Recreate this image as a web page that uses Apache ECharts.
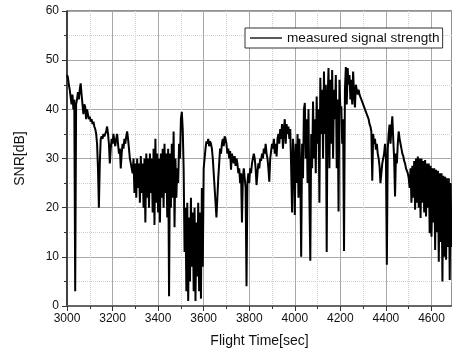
<!DOCTYPE html>
<html>
<head>
<meta charset="utf-8">
<script src="https://cdn.jsdelivr.net/npm/echarts@6/dist/echarts.min.js"></script>
<style>
html,body{margin:0;padding:0;background:#fff;}
#chart{width:452px;height:353px;}
</style>
</head>
<body>
<div id="chart"></div>
<script>
// Sampling grid of the recording (seconds)
const timeStart = 3000;
const timeStep = 4;
// SNR values (dB), one per sample
const snr = [
47, 46.5, 45, 44, 42.5, 41, 43, 40, 42, 3,
41, 42, 43.5, 42, 44, 45.3, 43, 41, 39, 41,
40.5, 38, 40, 39, 38, 38.5, 37.5, 38, 37, 37.5,
36.5, 36, 35, 33, 28, 20, 29, 34, 34.5, 34,
35, 34.5, 35, 35.5, 36.5, 35, 33, 29, 32, 34,
33, 35, 33.5, 32.5, 34, 35, 33, 31, 32, 28,
31, 33, 32, 34, 33, 34.5, 35.5, 34, 32, 30,
29, 28, 27, 30, 23, 29, 22, 30, 24, 29,
21, 30.5, 23, 29, 20, 30, 17, 31, 22, 30,
20, 31, 23, 30, 19, 32, 16.5, 34, 21, 31,
19, 30, 17, 31, 22, 32, 20, 33, 23, 31,
18, 32, 2, 31, 20, 33, 22, 35.5, 16, 30,
22, 28, 25, 33, 30, 38, 39.5, 36, 28, 11,
20, 3, 21, 1, 18, 5, 22, 8, 19, 3,
20, 1, 17, 6, 21, 3, 19, 1.5, 24, 8,
28, 30, 32, 33.5, 33, 34, 32.5, 33.5, 33, 32,
30, 27, 24, 21, 18, 22, 26, 29, 32, 31,
33, 34, 32.5, 34.5, 34, 33, 31, 32, 30, 31.5,
27.7, 31, 30, 29, 30.5, 28.5, 30, 29, 27, 28,
25, 27, 17, 26, 28, 26, 24, 4, 25, 27,
25, 28, 27, 29, 30, 31, 30, 28, 24.6, 27,
29, 28, 30, 29.5, 31, 30, 32, 31, 33, 31,
30, 28, 25.3, 30, 31.5, 33, 32, 34, 31, 33,
30.4, 34, 35, 33, 36, 34, 37, 32, 36, 38,
33, 37, 35, 36.5, 34, 36, 28, 19, 34, 30,
18.5, 33, 25, 35, 22, 34, 28, 10, 33, 26,
40, 41.3, 30, 38, 25, 40, 22, 9.2, 35, 28,
41.6, 30, 38, 27, 42.6, 33, 40, 21, 46.4, 35,
44, 30, 47.7, 35, 45, 11, 42, 48.4, 28, 46,
33, 48, 30, 44, 38, 47, 28, 42, 19.2, 46,
40, 40.6, 33, 38, 11.2, 44, 48.6, 41, 48.4, 45,
47, 42, 46, 41, 47.7, 43, 40.4, 45, 44, 43,
44, 43, 42.6, 42, 41.5, 41, 40.5, 40, 39.5, 39,
38.6, 38, 37, 36.5, 35.5, 25.5, 35, 33, 34, 31.8,
33, 31, 30, 28.4, 25, 27, 29, 30, 31, 33,
30, 8.4, 32, 35, 36.9, 33, 36, 38.6, 34, 30,
22.3, 31, 29, 33, 35.5, 34, 33, 32, 31, 30.5,
29.5, 29, 28, 27.5, 27, 26, 24, 28, 21, 28.5,
22, 29.5, 19.6, 30, 21, 30.4, 20, 30, 17.9, 30,
21, 29.5, 19, 29.7, 18.2, 29, 20, 29, 14.8, 28.5,
14.1, 28, 17, 28, 11.4, 27.7, 15, 27.5, 9, 27,
13, 27, 5, 26.5, 10, 26.3, 9.4, 26, 12, 26,
5.3, 25, 12
];
const seriesName = 'measured signal strength';
const xTitle = 'Flight Time[sec]';
const yTitle = 'SNR[dB]';

const data = snr.map((v, i) => [timeStart + i * timeStep, v]);
const font = "'Liberation Sans', Arial, sans-serif";

const chart = echarts.init(document.getElementById('chart'), null, {renderer: 'canvas'});
chart.setOption({
  animation: false,
  backgroundColor: '#fff',
  grid: {left: 67, right: 0, top: 11, bottom: 47, show: true, borderColor: '#222', borderWidth: 1, backgroundColor: 'transparent'},
  legend: {
    data: [{name: seriesName, icon: 'rect'}],
    left: 245, top: 28,
    itemWidth: 32, itemHeight: 1.3,
    padding: [3, 3, 3, 5],
    borderColor: '#333', borderWidth: 1, borderRadius: 0,
    backgroundColor: '#fff',
    textStyle: {fontSize: 13.6, color: '#111', fontFamily: font}
  },
  xAxis: {
    type: 'value', min: 3000, max: 4690, interval: 200,
    name: xTitle, nameLocation: 'middle', nameGap: 28,
    nameTextStyle: {fontSize: 14, color: '#111', fontFamily: font},
    axisLine: {show: true, lineStyle: {color: '#666', width: 2}},
    axisTick: {show: true, length: 5, lineStyle: {color: '#333'}},
    minorTick: {show: true, splitNumber: 2, length: 3, lineStyle: {color: '#333'}},
    axisLabel: {fontSize: 12, color: '#111', fontFamily: font, margin: 7, showMaxLabel: false,
      formatter: v => String(v)},
    splitLine: {show: true, lineStyle: {color: '#a8a8a8', width: 1}},
    minorSplitLine: {show: true, lineStyle: {color: '#cfcfcf', type: 'dotted', width: 1}}
  },
  yAxis: {
    type: 'value', min: 0, max: 60, interval: 10,
    name: yTitle, nameLocation: 'middle', nameGap: 40,
    nameTextStyle: {fontSize: 14, color: '#111', fontFamily: font},
    axisLine: {show: true, lineStyle: {color: '#222', width: 1.5}},
    axisTick: {show: true, length: 5, lineStyle: {color: '#333'}},
    minorTick: {show: true, splitNumber: 2, length: 3, lineStyle: {color: '#333'}},
    axisLabel: {fontSize: 12, color: '#111', fontFamily: font, margin: 8},
    splitLine: {show: true, lineStyle: {color: '#a8a8a8', width: 1}},
    minorSplitLine: {show: true, lineStyle: {color: '#cfcfcf', type: 'dotted', width: 1}}
  },
  series: [{
    name: seriesName,
    type: 'line',
    data: data,
    symbol: 'none',
    sampling: 'none',
    lineStyle: {color: '#000', width: 2},
    itemStyle: {color: '#000'}
  }]
});
</script>
</body>
</html>
